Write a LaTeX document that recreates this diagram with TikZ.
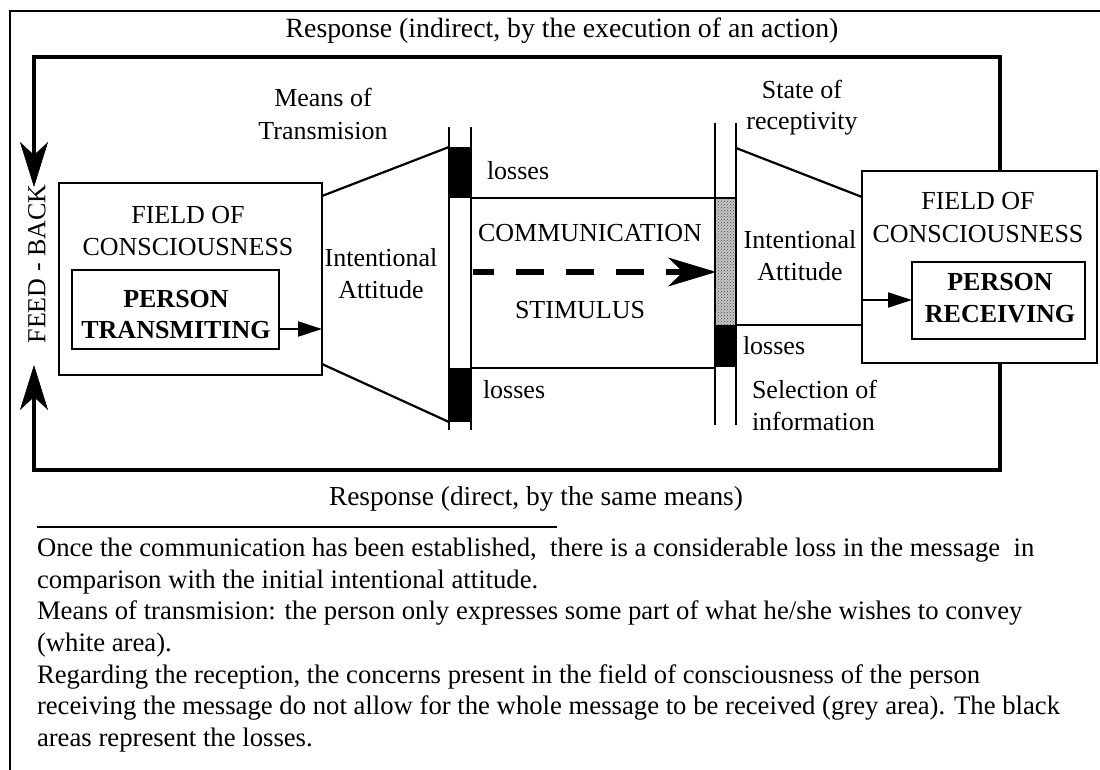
\documentclass[tikz,border=0pt]{standalone}
\usepackage{fontspec}
\setmainfont{Liberation Serif}
\usetikzlibrary{arrows.meta,patterns,calc}
\begin{document}
\begin{tikzpicture}[x=1pt,y=-1pt,
  txt/.style={inner sep=0pt,outer sep=0pt,anchor=base,font=\fontsize{26}{31}\selectfont},
  txtl/.style={txt,anchor=base west},
  txtb/.style={txt,font=\fontsize{26}{31}\selectfont\bfseries},
  note/.style={txtl,font=\fontsize{26.7}{31}\selectfont},
  resp/.style={txt,font=\fontsize{27.4}{32}\selectfont},
  fieldbox/.style={draw,line width=2.5pt,inner sep=0pt,outer sep=0pt},
  fb/.style={line width=4.5pt,line join=miter},
  fbtip/.style={-{Stealth[length=45pt,width=28pt,inset=13pt,line width=0.5pt]}},
  thin/.style={line width=2.2pt},
  smalltip/.style={-{Triangle[length=24pt,width=15pt]}},
]
\useasboundingbox (0,0) rectangle (1100,770);

% page frame
\draw[line width=2pt] (10,770) -- (10,11) -- (1100,11);

% field of consciousness boxes
\node[fieldbox,minimum width=263pt,minimum height=192pt] (lfield) at (190.5,279) {};
\node[fieldbox,minimum width=207pt,minimum height=79pt] (lperson) at (175.5,309.5) {};
\node[fieldbox,minimum width=235pt,minimum height=192pt] (rfield) at (979.5,267) {};
\node[fieldbox,minimum width=173pt,minimum height=77pt] (rperson) at (998.5,300.5) {};

\node[txt] (lf1) at (188,223) {FIELD OF};
\node[txt] (lf2) at (188,255) {CONSCIOUSNESS};
\node[txtb] (lp1) at (176,307) {PERSON};
\node[txtb] (lp2) at (176,338) {TRANSMITING};
\node[txt] (rf1) at (978,210) {FIELD OF};
\node[txt] (rf2) at (978,242) {CONSCIOUSNESS};
\node[txtb] (rp1) at (1000,290) {PERSON};
\node[txtb] (rp2) at (1000,322) {RECEIVING};

% inner arrows
\draw[thin,smalltip] (lperson.east |- 0,329) -- (lfield.east |- 0,329);
\draw[thin,smalltip] (rfield.west |- 0,300) -- (rperson.west |- 0,300);

% transmission bar
\coordinate (b1up) at (449,147);
\coordinate (b1lo) at (449,422);
\fill[black] (449,147) rectangle (471,198);
\fill[black] (449,368) rectangle (471,422);
\draw[thin] (449,127) -- (449,430);
\draw[thin] (471,127) -- (471,430);

% reception bar
\fill[black!22] (715,198) rectangle (736,325);
\fill[pattern=crosshatch dots,pattern color=black!75] (715,198) rectangle (736,325);
\fill[black] (715,325) rectangle (736,367);
\draw[thin] (715,123) -- (715,425);
\draw[thin] (736,123) -- (736,425);

% funnel of the transmitter
\coordinate (lup) at (322,196);
\coordinate (llo) at (322,364);
\draw[thin] (lup) -- (b1up);
\draw[thin] (llo) -- (b1lo);

% channel
\coordinate (chtl) at (471,198);
\coordinate (chtr) at (736,198);
\coordinate (chbl) at (471,368);
\coordinate (chbr) at (715,368);
\draw[thin] (chtl) -- (chtr);
\draw[thin] (chbl) -- (chbr);

% funnel of the receiver
\coordinate (b2up) at (736,148);
\coordinate (b2lo) at (736,325);
\draw[thin] (b2up) -- (rfield.west |- 0,197);
\draw[thin] (b2lo) -- (rfield.west |- 0,325);

% stimulus
\coordinate (stA) at (473,272);
\coordinate (stB) at (716,272);
\draw[line width=6.5pt,dash pattern=on 28pt off 22pt,dash phase=7pt,
  -{Stealth[length=48pt,width=29pt,inset=15pt,line width=0.5pt]}] (stA) -- (stB);

% labels
\node[txt] (mt1) at (323,107) {Means of};
\node[txt] (mt2) at (323,140) {Transmision};
\node[txt] (ia1) at (381,266) {Intentional};
\node[txt] (ia2) at (381,298) {Attitude};
\node[txtl] (ls1) at (487,180) {losses};
\node[txtl] (ls2) at (483,398) {losses};
\node[txt] (com) at (590,241) {COMMUNICATION};
\node[txt] (sti) at (580,318) {STIMULUS};
\node[txt] (sr1) at (802,99) {State of};
\node[txt] (sr2) at (802,130) {receptivity};
\node[txt] (ib1) at (800,248) {Intentional};
\node[txt] (ib2) at (800,280) {Attitude};
\node[txtl] (ls3) at (743,354) {losses};
\node[txtl] (si1) at (752,398) {Selection of};
\node[txtl] (si2) at (752,430) {information};

% feed-back loop
\coordinate (fbin) at (34,187);
\coordinate (fbin2) at (34,365);
\draw[fb,fbtip] ($(rfield.north)+(20.5,0)$) -- (1000,57) -- (34,57) -- (fbin);
\draw[fb,fbtip] ($(rfield.south)+(20.5,0)$) -- (1000,470) -- (34,470) -- (fbin2);
\node[txt,anchor=center,rotate=90] (fbk) at (37,264) {FEED - BACK};
\node[resp,font=\fontsize{27.8}{32}\selectfont] (rin) at (562,38) {Response (indirect, by the execution of an action)};
\node[resp] (rdi) at (536,505) {Response (direct, by the same means)};

% note
\draw[line width=1.5pt] (37,527) -- (557,527);
\node[note] (n1) at (37,556) {Once the communication has been established,~ there is a considerable loss in the message~ in};
\node[note] (n2) at (37,588) {comparison with the initial intentional attitude.};
\node[note] (n3) at (37,619) {Means of transmision: the person only expresses some part of what he/she wishes to convey};
\node[note] (n4) at (37,651) {(white area).};
\node[note] (n5) at (37,683) {Regarding the reception, the concerns present in the field of consciousness of the person};
\node[note] (n6) at (37,714) {receiving the message do not allow for the whole message to be received (grey area). The black};
\node[note] (n7) at (37,746) {areas represent the losses.};
\end{tikzpicture}
\end{document}
